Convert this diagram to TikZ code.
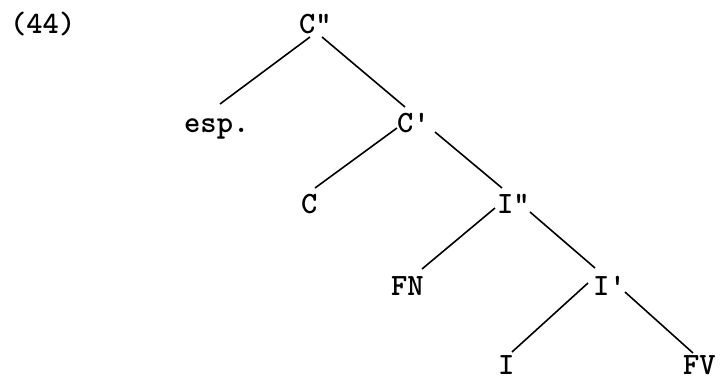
\documentclass[tikz,border=0pt]{standalone}
\usepackage{fontspec}
\begin{document}
\begin{tikzpicture}[x=1pt,y=-1pt,
  lab/.style={anchor=base west,inner sep=0pt,font=\ttfamily\bfseries\fontsize{31}{31}\selectfont},
  edge/.style={line width=1.6pt}]
\useasboundingbox[fill=white] (0,0) rectangle (721,376);
\node[lab] (n44) at (10,33) {(44)};
\node[lab] (Cpp) at (299,33) {C"};
\node[lab] (esp) at (184,132) {esp.};
\node[lab] (Cp) at (397,132) {C'};
\node[lab] (C) at (301,213) {C};
\node[lab] (Ipp) at (497,213) {I"};
\node[lab] (FN) at (391,295) {FN};
\node[lab] (Ip) at (593,295) {I'};
\node[lab] (I) at (498,374) {I};
\node[lab] (FV) at (683,374) {FV};
\draw[edge] ([shift={(11,4)}]Cpp.base west) -- ([shift={(36,-28)}]esp.base west);
\draw[edge] ([shift={(23,4)}]Cpp.base west) -- ([shift={(8,-25)}]Cp.base west);
\draw[edge] ([shift={(0,-4)}]Cp.base west) -- ([shift={(14,-25)}]C.base west);
\draw[edge] ([shift={(38,0)}]Cp.base west) -- ([shift={(5,-25)}]Ipp.base west);
\draw[edge] ([shift={(-2,-5)}]Ipp.base west) -- ([shift={(31,-26)}]FN.base west);
\draw[edge] ([shift={(33,-1)}]Ipp.base west) -- ([shift={(2,-27)}]Ip.base west);
\draw[edge] ([shift={(-5,-12)}]Ip.base west) -- ([shift={(14,-22)}]I.base west);
\draw[edge] ([shift={(32,-3)}]Ip.base west) -- ([shift={(10,-21)}]FV.base west);
\end{tikzpicture}
\end{document}
